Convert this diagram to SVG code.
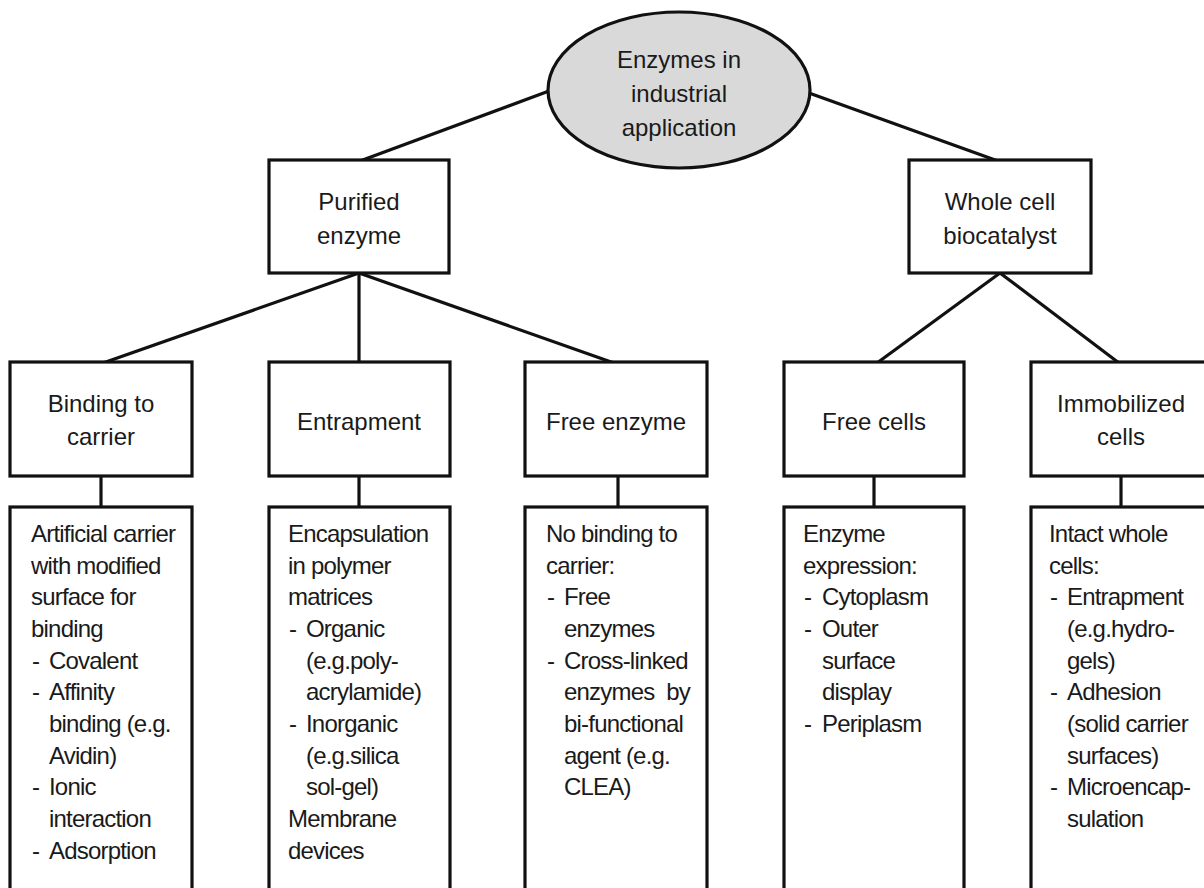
<svg xmlns="http://www.w3.org/2000/svg" width="1204" height="888" viewBox="0 0 1204 888">
<style>
  .box { fill: #ffffff; stroke: #111111; stroke-width: 3.2; }
  .ell { fill: #d9d9d9; stroke: #111111; stroke-width: 3.2; }
  .ln { stroke: #111111; stroke-width: 3.2; fill: none; }
  text { font-family: "Liberation Sans", Arial, sans-serif; font-size: 24px; fill: #1a1a1a; }
  .c { text-anchor: middle; }
  .d { letter-spacing: -0.8px; }
  .pre { white-space: pre; }
</style>
<rect width="1204" height="888" fill="#ffffff"/>

<g id="connectors">
  <line class="ln" x1="549" y1="91" x2="360" y2="161"/>
  <line class="ln" x1="809" y1="93" x2="998" y2="161"/>
  <line class="ln" x1="359" y1="273" x2="103" y2="363"/>
  <line class="ln" x1="359" y1="273" x2="359" y2="363"/>
  <line class="ln" x1="359" y1="273" x2="614" y2="363"/>
  <line class="ln" x1="1000" y1="273" x2="877" y2="363"/>
  <line class="ln" x1="1000" y1="273" x2="1119" y2="363"/>
  <line class="ln" x1="101" y1="476" x2="101" y2="507"/>
  <line class="ln" x1="359" y1="476" x2="359" y2="507"/>
  <line class="ln" x1="618" y1="476" x2="618" y2="507"/>
  <line class="ln" x1="874" y1="476" x2="874" y2="507"/>
  <line class="ln" x1="1121" y1="476" x2="1121" y2="507"/>
</g>

<g id="root">
  <ellipse class="ell" cx="679" cy="90" rx="131" ry="78"/>
  <text class="c" x="679" y="68">Enzymes in</text>
  <text class="c" x="679" y="102">industrial</text>
  <text class="c" x="679" y="136">application</text>
</g>

<g id="purified">
  <rect class="box" x="269" y="160" width="180" height="113"/>
  <text class="c" x="359" y="210">Purified</text>
  <text class="c" x="359" y="244">enzyme</text>
</g>

<g id="wholecell">
  <rect class="box" x="909" y="160" width="182" height="113"/>
  <text class="c" x="1000" y="210">Whole cell</text>
  <text class="c" x="1000" y="244">biocatalyst</text>
</g>

<g id="binding">
  <rect class="box" x="10" y="362" width="182" height="114"/>
  <text class="c" x="101" y="412">Binding to</text>
  <text class="c" x="101" y="445">carrier</text>
</g>

<g id="entrapment">
  <rect class="box" x="269" y="362" width="181" height="114"/>
  <text class="c" x="359" y="430">Entrapment</text>
</g>

<g id="freeenzyme">
  <rect class="box" x="525" y="362" width="182" height="114"/>
  <text class="c" x="616" y="430">Free enzyme</text>
</g>

<g id="freecells">
  <rect class="box" x="784" y="362" width="180" height="114"/>
  <text class="c" x="874" y="430">Free cells</text>
</g>

<g id="immobilized">
  <rect class="box" x="1031" y="362" width="182" height="114"/>
  <text class="c" x="1121" y="412">Immobilized</text>
  <text class="c" x="1121" y="445">cells</text>
</g>

<g id="binding-detail">
  <rect class="box" x="10" y="507" width="182" height="400"/>
  <text class="d" x="31" y="542">Artificial carrier</text>
  <text class="d" x="31" y="574">with modified</text>
  <text class="d" x="31" y="605">surface for</text>
  <text class="d" x="31" y="637">binding</text>
  <text class="d" x="32" y="669">-</text><text class="d" x="49" y="669">Covalent</text>
  <text class="d" x="32" y="700">-</text><text class="d" x="49" y="700">Affinity</text>
  <text class="d" x="49" y="732">binding (e.g.</text>
  <text class="d" x="49" y="764">Avidin)</text>
  <text class="d" x="32" y="795">-</text><text class="d" x="49" y="795">Ionic</text>
  <text class="d" x="49" y="827">interaction</text>
  <text class="d" x="32" y="859">-</text><text class="d" x="49" y="859">Adsorption</text>
</g>

<g id="entrapment-detail">
  <rect class="box" x="269" y="507" width="181" height="400"/>
  <text class="d" x="288" y="542">Encapsulation</text>
  <text class="d" x="288" y="574">in polymer</text>
  <text class="d" x="288" y="605">matrices</text>
  <text class="d" x="289" y="637">-</text><text class="d" x="306" y="637">Organic</text>
  <text class="d" x="306" y="669">(e.g.poly-</text>
  <text class="d" x="306" y="700">acrylamide)</text>
  <text class="d" x="289" y="732">-</text><text class="d" x="306" y="732">Inorganic</text>
  <text class="d" x="306" y="764">(e.g.silica</text>
  <text class="d" x="306" y="795">sol-gel)</text>
  <text class="d" x="288" y="827">Membrane</text>
  <text class="d" x="288" y="859">devices</text>
</g>

<g id="freeenzyme-detail">
  <rect class="box" x="525" y="507" width="182" height="400"/>
  <text class="d" x="546" y="542">No binding to</text>
  <text class="d" x="546" y="574">carrier:</text>
  <text class="d" x="547" y="605">-</text><text class="d" x="564" y="605">Free</text>
  <text class="d" x="564" y="637">enzymes</text>
  <text class="d" x="547" y="669">-</text><text class="d" x="564" y="669">Cross-linked</text>
  <text class="d pre" x="564" y="700">enzymes  by</text>
  <text class="d" x="564" y="732">bi-functional</text>
  <text class="d" x="564" y="764">agent (e.g.</text>
  <text class="d" x="564" y="795">CLEA)</text>
</g>

<g id="freecells-detail">
  <rect class="box" x="784" y="507" width="180" height="400"/>
  <text class="d" x="803" y="542">Enzyme</text>
  <text class="d" x="803" y="574">expression:</text>
  <text class="d" x="804" y="605">-</text><text class="d" x="822" y="605">Cytoplasm</text>
  <text class="d" x="804" y="637">-</text><text class="d" x="822" y="637">Outer</text>
  <text class="d" x="822" y="669">surface</text>
  <text class="d" x="822" y="700">display</text>
  <text class="d" x="804" y="732">-</text><text class="d" x="822" y="732">Periplasm</text>
</g>

<g id="immobilized-detail">
  <rect class="box" x="1031" y="507" width="182" height="400"/>
  <text class="d" x="1049" y="542">Intact whole</text>
  <text class="d" x="1049" y="574">cells:</text>
  <text class="d" x="1050" y="605">-</text><text class="d" x="1067" y="605">Entrapment</text>
  <text class="d" x="1067" y="637">(e.g.hydro-</text>
  <text class="d" x="1067" y="669">gels)</text>
  <text class="d" x="1050" y="700">-</text><text class="d" x="1067" y="700">Adhesion</text>
  <text class="d" x="1067" y="732">(solid carrier</text>
  <text class="d" x="1067" y="764">surfaces)</text>
  <text class="d" x="1050" y="795">-</text><text class="d" x="1067" y="795">Microencap-</text>
  <text class="d" x="1067" y="827">sulation</text>
</g>
</svg>
